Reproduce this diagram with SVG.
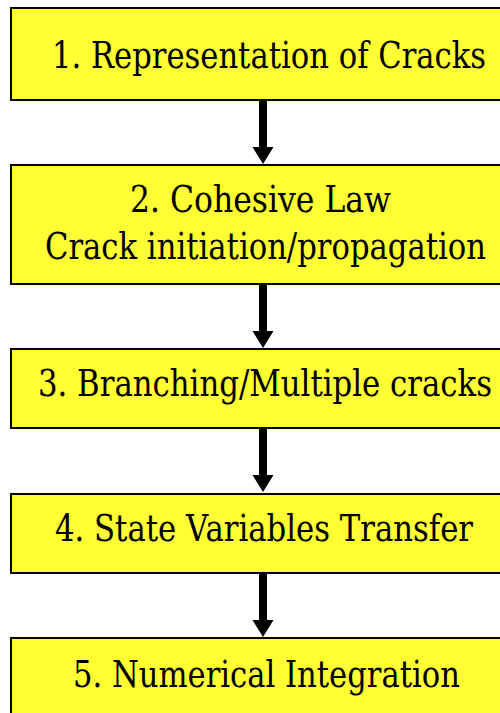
<svg xmlns="http://www.w3.org/2000/svg" width="500" height="713" viewBox="0 0 500 713">
  <style>
    .box { fill: #FFFF33; stroke: #000; stroke-width: 2; }
    .label { font-family: 'DejaVu Serif', 'Liberation Serif', serif; font-size: 38px; fill: #000; }
    .shaft { fill: #000; }
  </style>
  <defs>
    <!-- block arrow: 8px shaft with a wide head -->
    <path id="arrow" d="M-4,0 H4 V46 H10.5 L0,63 L-10.5,46 H-4 Z"/>
  </defs>
  <rect width="500" height="713" fill="#fff"/>

  <g id="node1">
    <rect class="box" x="11" y="8" width="500" height="92"/>
    <text class="label" x="52" y="68" textLength="434" lengthAdjust="spacingAndGlyphs">1. Representation of Cracks</text>
  </g>
  <g id="node2">
    <rect class="box" x="11" y="165" width="500" height="119"/>
    <text class="label" x="130" y="212" textLength="261" lengthAdjust="spacingAndGlyphs">2. Cohesive Law</text>
    <text class="label" x="45" y="259" textLength="441" lengthAdjust="spacingAndGlyphs">Crack initiation/propagation</text>
  </g>
  <g id="node3">
    <rect class="box" x="11" y="349" width="500" height="79"/>
    <text class="label" x="38" y="396" textLength="454" lengthAdjust="spacingAndGlyphs">3. Branching/Multiple cracks</text>
  </g>
  <g id="node4">
    <rect class="box" x="11" y="494" width="500" height="79"/>
    <text class="label" x="55" y="541" textLength="418" lengthAdjust="spacingAndGlyphs">4. State Variables Transfer</text>
  </g>
  <g id="node5">
    <rect class="box" x="11" y="638" width="500" height="90"/>
    <text class="label" x="73" y="687" textLength="387" lengthAdjust="spacingAndGlyphs">5. Numerical Integration</text>
  </g>

  <g id="connectors" class="shaft">
    <use href="#arrow" x="263" y="101"/>
    <use href="#arrow" x="263" y="285"/>
    <use href="#arrow" x="263" y="429"/>
    <use href="#arrow" x="263" y="574"/>
  </g>
</svg>
